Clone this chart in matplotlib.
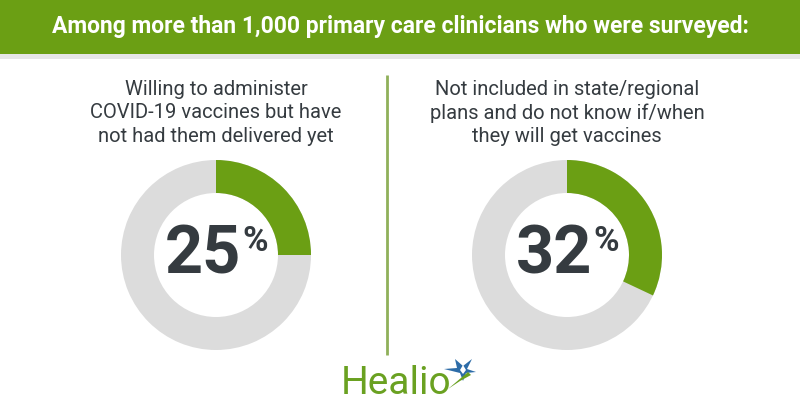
import matplotlib.pyplot as plt
from matplotlib.patches import Wedge, Rectangle, Polygon

# data
title = 'Among more than 1,000 primary care clinicians who were surveyed:'
labels = ['Willing to administer\nCOVID-19 vaccines but have\nnot had them delivered yet',
          'Not included in state/regional\nplans and do not know if/when\nthey will get vaccines']
values = [25, 32]

GREEN = '#6b9f14'
GRAY = '#dcdcdc'
DARK = '#353b40'

fig = plt.figure(figsize=(8, 4.2), dpi=100)
ax = fig.add_axes([0, 0, 1, 1])
ax.set_xlim(0, 800)
ax.set_ylim(0, 420)
ax.set_aspect('equal')
ax.axis('off')

H = 420  # helper to flip image y coords

# header band
ax.add_patch(Rectangle((0, H - 54), 800, 54, color=GREEN, lw=0))
ax.add_patch(Rectangle((0, H - 59), 800, 5, color='#e6e6e6', lw=0))
ax.text(400, H - 27, title, ha='center', va='center', color='white',
        fontsize=16.5, fontweight='bold', family='Roboto')

# divider
ax.plot([387, 387], [H - 75, H - 355], color='#8fb05a', lw=2, solid_capstyle='butt')

centers = [216, 567]
cy = H - 255
r_out, r_in = 95, 62
for cx, val, lab in zip(centers, values, labels):
    ax.add_patch(Wedge((cx, cy), r_out, 0, 360, width=r_out - r_in, color=GRAY, lw=0))
    ax.add_patch(Wedge((cx, cy), r_out, 90 - 360 * val / 100, 90, width=r_out - r_in, color=GREEN, lw=0))
    ax.text(cx + 25, cy, str(val), ha='right', va='center', color=DARK,
            fontsize=48, fontweight='bold', family='Roboto')
    ax.text(cx + 26, cy + 30, '%', ha='left', va='top', color=DARK,
            fontsize=25, fontweight='bold', family='Roboto')
    ax.text(cx, H - 113, lab, ha='center', va='center', color=DARK,
            fontsize=14.5, family='Roboto', linespacing=1.3)

# Healio logo
ax.text(341, H - 383, 'Healio', ha='left', va='center', color='#6aa121',
        fontsize=28, family='Roboto')
star = [(444, 369), (457, 368), (455, 359), (463, 366), (472, 359), (467, 369),
        (476, 372), (466, 373), (463, 381), (460, 373)]
ax.add_patch(Polygon([(x, H - y) for x, y in star], closed=True, color='#2d6ca8', lw=0))
tail = [(448, 389), (468, 372), (471, 375), (460, 381)]
ax.add_patch(Polygon([(x, H - y) for x, y in tail], closed=True, color='#6aa121', lw=0))
ax.add_patch(Polygon([(x, H - y) for x, y in [(460, 370), (463, 365), (466, 370), (463, 374)]],
                     closed=True, color='white', lw=0))

fig.savefig('out.png', dpi=100, facecolor='white')
